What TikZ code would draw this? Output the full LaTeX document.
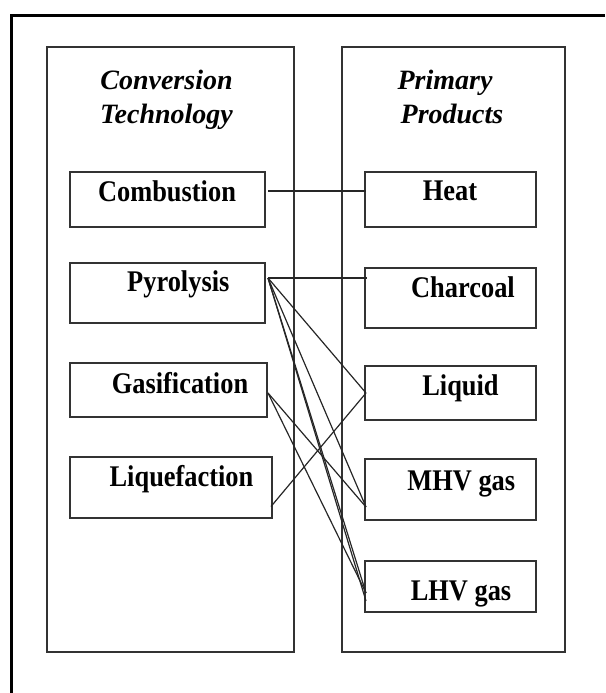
\documentclass[tikz,border=0pt]{standalone}
\usepackage{fontspec}
\setmainfont{Liberation Serif}
\usetikzlibrary{calc}
\newcommand\squeeze[1]{\scalebox{0.88}[1]{#1}}
\begin{document}
\begin{tikzpicture}[x=1pt,y=-1pt,
  frame/.style={line width=3pt, black},
  colbox/.style={draw=black!80, line width=1.8pt, inner sep=0pt, outer sep=0pt},
  itembox/.style={draw=black!80, line width=1.8pt, inner sep=0pt, outer sep=0pt},
  lbl/.style={inner sep=0pt, anchor=base, font=\fontsize{30}{34}\selectfont\bfseries},
  ttl/.style={inner sep=0pt, anchor=base, font=\fontsize{28}{34}\selectfont\bfseries\itshape},
  wire/.style={draw=black!85, line width=1.2pt}]
\useasboundingbox (0,0) rectangle (605,693);

% outer frame (top and left sides only)
\draw[frame] (605,16) -- (11.5,16) -- (11.5,693);

% the two columns
\node[colbox, minimum width=247pt, minimum height=605pt] (tech) at (170.5,349.5) {};
\node[colbox, minimum width=223pt, minimum height=605pt] (prod) at (453.5,349.5) {};

\node[ttl] (techA) at (166.5,89) {Conversion};
\node[ttl] (techB) at (166.5,123) {Technology};
\node[ttl] (prodA) at (445,89) {Primary};
\node[ttl] (prodB) at (452,123) {Products};

% conversion technologies
\node[itembox, minimum width=195pt, minimum height=55pt] (comb) at (167.5,199.5) {};
\node[itembox, minimum width=195pt, minimum height=60pt] (pyro) at (167.5,293) {};
\node[itembox, minimum width=197pt, minimum height=54pt] (gasi) at (168.5,390) {};
\node[itembox, minimum width=202pt, minimum height=61pt] (liqf) at (171,487.5) {};

\node[lbl] at (167,201.7) {\squeeze{Combustion}};
\node[lbl] at (178.3,291.7) {\squeeze{Pyrolysis}};
\node[lbl] at (180,393) {\squeeze{Gasification}};
\node[lbl] at (181.5,486.7) {\squeeze{Liquefaction}};

% primary products
\node[itembox, minimum width=171pt, minimum height=55pt] (heat) at (450.5,199.5) {};
\node[itembox, minimum width=171pt, minimum height=60pt] (char) at (450.5,298) {};
\node[itembox, minimum width=171pt, minimum height=54pt] (liq) at (450.5,393) {};
\node[itembox, minimum width=171pt, minimum height=61pt] (mhv) at (450.5,489.5) {};
\node[itembox, minimum width=171pt, minimum height=51pt] (lhv) at (450.5,586.5) {};

\node[lbl] at (450,200.7) {\squeeze{Heat}};
\node[lbl] at (463,297.3) {\squeeze{Charcoal}};
\node[lbl] at (460.5,395) {\squeeze{Liquid}};
\node[lbl] at (461.3,490) {\squeeze{MHV gas}};
\node[lbl] at (461,600) {\squeeze{LHV gas}};

% connection points
\coordinate (combR) at ($(comb.east)+(3,-8.5)$);
\coordinate (pyroR) at ($(pyro.east)+(3,-15)$);
\coordinate (gasiR) at ($(gasi.east)+(1,3)$);
\coordinate (liqfR) at ($(liqf.east)+(-1,19)$);
\coordinate (heatL) at ($(heat.west)+(1,-8.5)$);
\coordinate (charL) at ($(char.west)+(2,-20)$);
\coordinate (liqL)  at ($(liq.west)+(1,0)$);
\coordinate (mhvL)  at ($(mhv.west)+(1,17.5)$);
\coordinate (lhvL)  at ($(lhv.west)+(1,6.5)$);
\coordinate (lhvLb) at ($(lhv.west)+(1,14.5)$);

% links
\draw[wire] (combR) -- (heatL);
\draw[wire] (pyroR) -- (charL);
\draw[wire] (pyroR) -- (liqL);
\draw[wire] (pyroR) -- (mhvL);
\draw[wire] (pyroR) -- (lhvL);
\draw[wire] (pyroR) -- (lhvLb);
\draw[wire] (gasiR) -- (mhvL);
\draw[wire] (gasiR) -- (lhvL);
\draw[wire] (liqfR) -- (liqL);
\end{tikzpicture}
\end{document}
